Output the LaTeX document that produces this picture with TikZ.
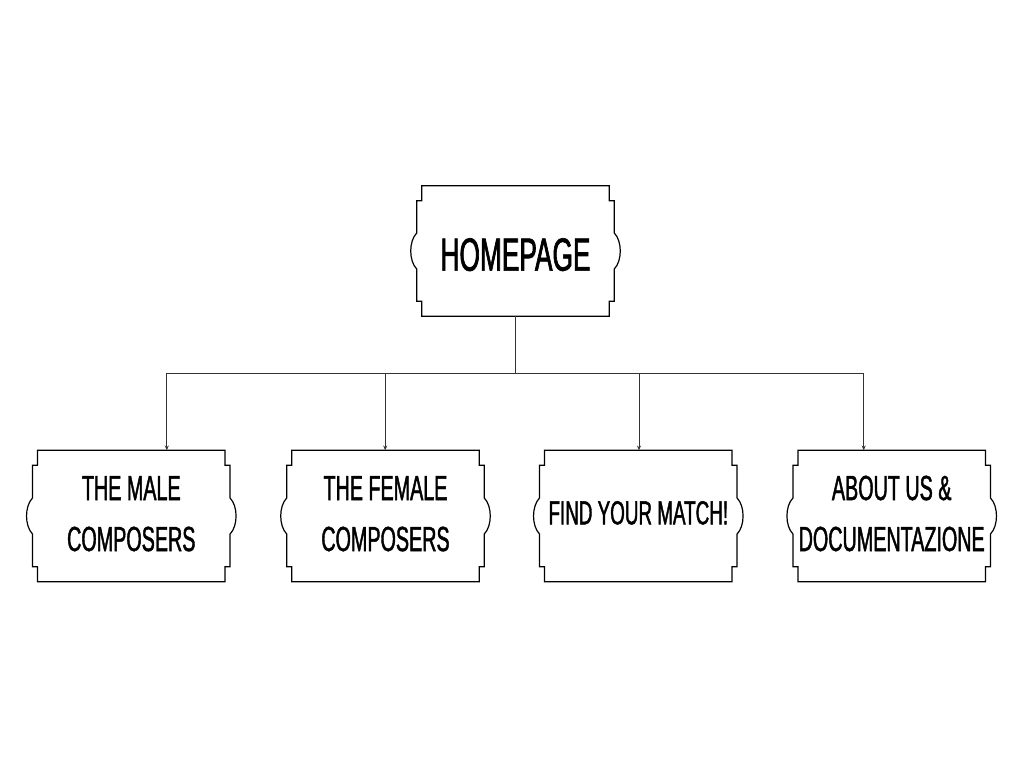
\documentclass[tikz,border=0pt]{standalone}
\usepackage{fontspec}
\usetikzlibrary{arrows.meta,calc}
\newfontfamily\labelfont[FakeStretch=0.565,FakeBold=1.2]{Liberation Sans}
\newfontfamily\homefont[FakeStretch=0.565,FakeBold=1.4]{Liberation Sans}
\newcommand\liftby[2]{\raisebox{#1}[\height][\depth]{\begin{tabular}{@{}c@{}}#2\end{tabular}}}
\tikzset{
  boxline/.style={draw=black,line width=0.9pt},
  conn/.style={draw=black!80,line width=0.75pt,-{Stealth[length=3.5pt,width=3pt]}},
  ticket/.style={rectangle,inner sep=0pt,minimum width=140.25pt,minimum height=98.25pt,align=center,text=black},
  childtext/.style={font=\labelfont\fontsize{26.2}{38.25}\selectfont},
  findtext/.style={font=\labelfont\fontsize{25}{38.25}\selectfont},
  hometext/.style={font=\homefont\fontsize{34.9}{40}\selectfont}
}
\newcommand\ticketoutline[1]{%
  \draw[boxline] (#1.north west) -- (#1.north east) -- ($(#1.north east)+(0,15)$) -- ($(#1.north east)+(5,15)$)
    -- ($(#1.east)+(5,-18)$) .. controls ($(#1.east)+(13,-10)$) and ($(#1.east)+(13,10)$) .. ($(#1.east)+(5,18)$)
    -- ($(#1.south east)+(5,-15)$) -- ($(#1.south east)+(0,-15)$) -- (#1.south east) -- (#1.south west)
    -- ($(#1.south west)+(0,-15)$) -- ($(#1.south west)+(-5,-15)$)
    -- ($(#1.west)+(-5,18)$) .. controls ($(#1.west)+(-13,10)$) and ($(#1.west)+(-13,-10)$) .. ($(#1.west)+(-5,-18)$)
    -- ($(#1.north west)+(-5,15)$) -- ($(#1.north west)+(0,15)$) -- cycle;}
\begin{document}
\begin{tikzpicture}[x=0.75pt,y=-0.75pt]
\useasboundingbox[fill=white] (0,0) rectangle (1024,768);
\node[ticket,hometext,minimum height=97.5pt] (home) at (515.5,251) {\liftby{-6.75pt}{HOMEPAGE}};
\node[ticket,childtext] (m1) at (131.3,516) {\liftby{0.5pt}{THE MALE\\COMPOSERS}};
\node[ticket,childtext] (m2) at (385.5,516) {\liftby{0.5pt}{THE FEMALE\\COMPOSERS}};
\node[ticket,findtext] (m3) at (638.3,516) {\liftby{1.4pt}{FIND YOUR MATCH!}};
\node[ticket,childtext] (m4) at (891.7,516) {\liftby{0.5pt}{ABOUT US \&\\DOCUMENTAZIONE}};
\foreach \n in {home,m1,m2,m3,m4} {\ticketoutline{\n}}
\coordinate (bus) at ($(home.south)+(0,57)$);
\draw[conn] (home.south) -- (bus) -| ($(m1.north)+(35.5,0)$);
\draw[conn] (home.south) -- (bus) -| ($(m2.north)+(-0.3,0)$);
\draw[conn] (home.south) -- (bus) -| ($(m3.north)+(0.7,0)$);
\draw[conn] (home.south) -- (bus) -| ($(m4.north)+(-28,0)$);
\end{tikzpicture}
\end{document}
